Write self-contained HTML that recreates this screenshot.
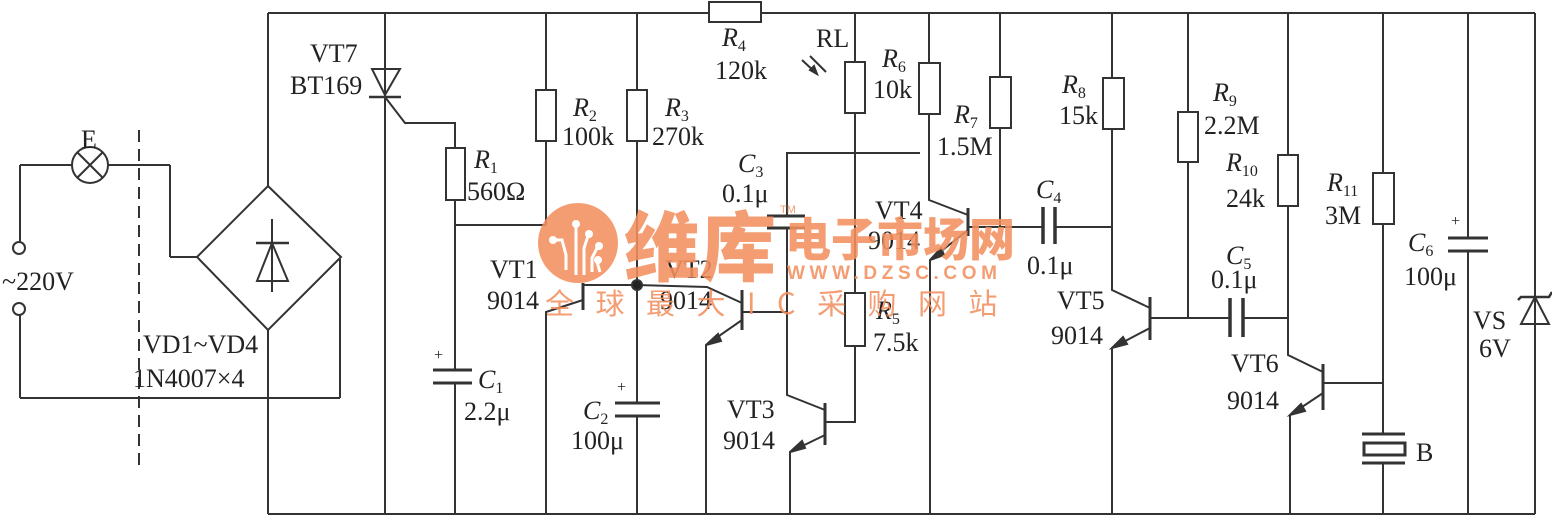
<!DOCTYPE html>
<html><head><meta charset="utf-8"><style>
html,body{margin:0;padding:0;background:#fff;}
svg{display:block;}
text{font-family:"Liberation Serif",serif;fill:#222;font-size:26px;}
.i{font-style:italic;}
.s{font-size:16px;}
</style></head><body>
<svg width="1552" height="516" viewBox="0 0 1552 516" xmlns="http://www.w3.org/2000/svg">
<g stroke="#333" stroke-width="2" fill="none">
<line x1="268" y1="13" x2="1535" y2="13"/>
<line x1="268" y1="514" x2="1535" y2="514"/>
<polygon points="268,186 341,257 268,330 197,257"/>
<line x1="268" y1="13" x2="268" y2="186"/>
<line x1="268" y1="330" x2="268" y2="514"/>
<line x1="272" y1="219" x2="272" y2="292"/>
<line x1="256" y1="243" x2="289" y2="243" stroke-width="2.5"/>
<polygon points="272,243 257,281 288,281"/>
<line x1="20" y1="165" x2="20" y2="242"/>
<circle cx="19" cy="248" r="6"/>
<circle cx="19" cy="309" r="6"/>
<line x1="20" y1="315" x2="20" y2="398"/>
<line x1="20" y1="398" x2="340" y2="398"/>
<line x1="340" y1="398" x2="340" y2="259"/>
<line x1="20" y1="165" x2="72" y2="165"/>
<circle cx="90" cy="165" r="18"/>
<line x1="77" y1="152" x2="103" y2="178"/>
<line x1="103" y1="152" x2="77" y2="178"/>
<line x1="108" y1="165" x2="170" y2="165"/>
<line x1="170" y1="165" x2="170" y2="257"/>
<line x1="170" y1="257" x2="197" y2="257"/>
<line x1="139" y1="130" x2="139" y2="465" stroke-dasharray="12,7"/>
<line x1="385" y1="13" x2="385" y2="514"/>
<polygon points="372,69 400,69 385,95"/>
<line x1="369" y1="97" x2="401" y2="97" stroke-width="2.5"/>
<polyline points="385,97 405,123 455,123 455,148"/>
<rect x="446" y="148" width="19" height="52"/>
<line x1="455" y1="200" x2="455" y2="370"/>
<line x1="433" y1="370" x2="472" y2="370" stroke-width="3"/>
<line x1="433" y1="383" x2="472" y2="383" stroke-width="3"/>
<line x1="455" y1="383" x2="455" y2="514"/>
<line x1="455" y1="225" x2="546" y2="225"/>
<line x1="546" y1="13" x2="546" y2="90"/>
<rect x="536" y="90" width="20" height="51"/>
<line x1="546" y1="141" x2="546" y2="225"/>
<line x1="583" y1="283" x2="583" y2="310" stroke-width="3"/>
<polyline points="583,285 637,285 707,287 742,303"/>
<polyline points="583,300 546,312 546,514"/>
<line x1="637" y1="13" x2="637" y2="90"/>
<rect x="627" y="90" width="20" height="51"/>
<line x1="637" y1="141" x2="637" y2="403"/>
<circle cx="637" cy="285" r="5" fill="#222"/>
<line x1="615" y1="403" x2="660" y2="403" stroke-width="3"/>
<line x1="615" y1="416" x2="660" y2="416" stroke-width="3"/>
<line x1="637" y1="416" x2="637" y2="514"/>
<line x1="742" y1="290" x2="742" y2="330" stroke-width="3"/>
<polyline points="742,320 706,345 706,514"/>
<polygon points="706,345 718,334 721,341" fill="#333"/>
<polyline points="742,312 787,312"/>
<rect x="709" y="2" width="52" height="20" fill="#fff"/>
<polyline points="920,153 787,153 787,216"/>
<line x1="767" y1="216" x2="805" y2="216" stroke-width="3"/>
<line x1="767" y1="228" x2="805" y2="228" stroke-width="3"/>
<polyline points="787,228 787,395 825,410"/>
<line x1="825" y1="403" x2="825" y2="445" stroke-width="3"/>
<polyline points="825,435 790,452 790,514"/>
<polygon points="790,452 802,441 805,448" fill="#333"/>
<line x1="855" y1="13" x2="855" y2="62"/>
<rect x="845" y="62" width="20" height="51"/>
<line x1="855" y1="113" x2="855" y2="293"/>
<rect x="845" y="293" width="20" height="53"/>
<polyline points="855,346 855,422 825,422"/>
<line x1="802" y1="60" x2="817" y2="74"/>
<line x1="810" y1="56" x2="826" y2="72"/>
<polygon points="817,74 810,70 814,66" fill="#333"/>
<line x1="929" y1="13" x2="929" y2="63"/>
<rect x="919" y="63" width="21" height="51"/>
<polyline points="929,114 929,153 929,200 968,215"/>
<line x1="968" y1="208" x2="968" y2="236" stroke-width="3"/>
<polyline points="968,230 930,260 930,514"/>
<polygon points="930,260 941,248 944,255" fill="#333"/>
<line x1="1000" y1="13" x2="1000" y2="77"/>
<rect x="990" y="77" width="21" height="51"/>
<line x1="1000" y1="128" x2="1000" y2="227"/>
<line x1="968" y1="227" x2="1043" y2="227"/>
<line x1="1043" y1="207" x2="1043" y2="244" stroke-width="3.5"/>
<line x1="1055" y1="207" x2="1055" y2="244" stroke-width="3.5"/>
<line x1="1055" y1="227" x2="1112" y2="227"/>
<line x1="1112" y1="13" x2="1112" y2="78"/>
<rect x="1103" y="78" width="21" height="51"/>
<polyline points="1112,129 1112,290 1150,308"/>
<line x1="1150" y1="297" x2="1150" y2="340" stroke-width="3"/>
<polyline points="1150,328 1112,348 1112,514"/>
<polygon points="1112,348 1123,337 1127,344" fill="#333"/>
<line x1="1150" y1="318" x2="1230" y2="318"/>
<line x1="1188" y1="13" x2="1188" y2="112"/>
<rect x="1178" y="112" width="20" height="50"/>
<line x1="1188" y1="162" x2="1188" y2="318"/>
<line x1="1230" y1="298" x2="1230" y2="337" stroke-width="3.5"/>
<line x1="1243" y1="298" x2="1243" y2="337" stroke-width="3.5"/>
<line x1="1243" y1="318" x2="1287" y2="318"/>
<line x1="1288" y1="13" x2="1288" y2="155"/>
<rect x="1278" y="155" width="20" height="51"/>
<polyline points="1288,206 1288,355 1323,372"/>
<line x1="1323" y1="364" x2="1323" y2="410" stroke-width="3"/>
<polyline points="1323,393 1290,415 1290,514"/>
<polygon points="1290,415 1301,404 1305,411" fill="#333"/>
<line x1="1323" y1="383" x2="1383" y2="383"/>
<line x1="1383" y1="13" x2="1383" y2="173"/>
<rect x="1373" y="173" width="21" height="51"/>
<line x1="1383" y1="224" x2="1383" y2="434"/>
<line x1="1362" y1="434" x2="1405" y2="434" stroke-width="3"/>
<rect x="1364" y="443" width="41" height="12" stroke-width="3"/>
<line x1="1362" y1="463" x2="1405" y2="463" stroke-width="3"/>
<line x1="1383" y1="463" x2="1383" y2="514"/>
<line x1="1468" y1="13" x2="1468" y2="238"/>
<line x1="1448" y1="238" x2="1488" y2="238" stroke-width="3"/>
<line x1="1448" y1="251" x2="1488" y2="251" stroke-width="3"/>
<line x1="1468" y1="251" x2="1468" y2="514"/>
<line x1="1535" y1="13" x2="1535" y2="514"/>
<polygon points="1535,297 1521,324 1549,324"/>
<polyline points="1518,300 1521,297 1549,297 1552,292" stroke-width="2.5"/>
</g>
<text x="310" y="62">VT7</text>
<text x="290" y="94">BT169</text>
<text x="81" y="148">E</text>
<text x="2" y="290">~220V</text>
<text x="143" y="353">VD1~VD4</text>
<text x="133" y="387">1N4007×4</text>
<text x="474" y="168" class="i">R<tspan class="s" dy="5" font-style="normal">1</tspan></text>
<text x="467" y="200">560Ω</text>
<text x="434" y="360" class="s">+</text>
<text x="478" y="388" class="i">C<tspan class="s" dy="5" font-style="normal">1</tspan></text>
<text x="464" y="420">2.2μ</text>
<text x="490" y="278">VT1</text>
<text x="487" y="309">9014</text>
<text x="573" y="116" class="i">R<tspan class="s" dy="5" font-style="normal">2</tspan></text>
<text x="562" y="145">100k</text>
<text x="665" y="116" class="i">R<tspan class="s" dy="5" font-style="normal">3</tspan></text>
<text x="652" y="145">270k</text>
<text x="722" y="46" class="i">R<tspan class="s" dy="5" font-style="normal">4</tspan></text>
<text x="715" y="79">120k</text>
<text x="816" y="47">RL</text>
<text x="882" y="67" class="i">R<tspan class="s" dy="5" font-style="normal">6</tspan></text>
<text x="873" y="98">10k</text>
<text x="954" y="123" class="i">R<tspan class="s" dy="5" font-style="normal">7</tspan></text>
<text x="937" y="155">1.5M</text>
<text x="738" y="172" class="i">C<tspan class="s" dy="5" font-style="normal">3</tspan></text>
<text x="722" y="202">0.1μ</text>
<text x="875" y="219">VT4</text>
<text x="868" y="249">9014</text>
<text x="665" y="278">VT2</text>
<text x="660" y="309">9014</text>
<text x="876" y="319" class="i">R<tspan class="s" dy="5" font-style="normal">5</tspan></text>
<text x="873" y="351">7.5k</text>
<text x="727" y="418">VT3</text>
<text x="723" y="449">9014</text>
<text x="583" y="419" class="i">C<tspan class="s" dy="5" font-style="normal">2</tspan></text>
<text x="571" y="449">100μ</text>
<text x="617" y="392" class="s">+</text>
<text x="1036" y="198" class="i">C<tspan class="s" dy="5" font-style="normal">4</tspan></text>
<text x="1027" y="274">0.1μ</text>
<text x="1062" y="93" class="i">R<tspan class="s" dy="5" font-style="normal">8</tspan></text>
<text x="1059" y="124">15k</text>
<text x="1213" y="101" class="i">R<tspan class="s" dy="5" font-style="normal">9</tspan></text>
<text x="1204" y="134">2.2M</text>
<text x="1226" y="171" class="i">R<tspan class="s" dy="5" font-style="normal">10</tspan></text>
<text x="1226" y="207">24k</text>
<text x="1327" y="191" class="i">R<tspan class="s" dy="5" font-style="normal">11</tspan></text>
<text x="1325" y="224">3M</text>
<text x="1408" y="251" class="i">C<tspan class="s" dy="5" font-style="normal">6</tspan></text>
<text x="1404" y="285">100μ</text>
<text x="1451" y="226" class="s">+</text>
<text x="1057" y="309">VT5</text>
<text x="1051" y="344">9014</text>
<text x="1226" y="264" class="i">C<tspan class="s" dy="5" font-style="normal">5</tspan></text>
<text x="1211" y="288">0.1μ</text>
<text x="1231" y="372">VT6</text>
<text x="1227" y="409">9014</text>
<text x="1473" y="329">VS</text>
<text x="1479" y="357">6V</text>
<text x="1416" y="461">B</text>
<g opacity="0.88">
<circle cx="578" cy="243" r="40" fill="#f3905f"/>
<g stroke="#fff" stroke-width="3" fill="none">
<polyline points="553,240 562,240 566,255 566,270"/>
<polyline points="576,226 576,275"/>
<polyline points="588,236 584,248 584,275"/>
<polyline points="598,246 592,258 592,272"/>
<polyline points="597,262 600,272"/>
</g>
<g fill="#fff"><circle cx="553" cy="240" r="4"/><circle cx="576" cy="224" r="4"/><circle cx="589" cy="234" r="4"/><circle cx="599" cy="246" r="4"/><circle cx="598" cy="260" r="4"/></g>
<text x="624" y="275" style="font-family:'Noto Sans CJK SC',sans-serif;font-weight:900;font-size:76px;fill:#f3905f">维库</text>
<text x="785" y="256" style="font-family:'Noto Sans CJK SC',sans-serif;font-weight:900;font-size:46px;fill:#f3905f">电子市场网</text>
<text x="787" y="279" style="font-family:'Liberation Sans',sans-serif;font-weight:bold;font-size:19px;letter-spacing:4.6px;fill:#f3905f">WWW.DZSC.COM</text>
<text x="545" y="314" style="font-family:'Noto Sans CJK SC',sans-serif;font-size:29px;letter-spacing:21.5px;fill:#f3905f">全球最大IC采购网站</text>
<text x="780" y="213" style="font-family:'Liberation Sans',sans-serif;font-size:11px;fill:#f3905f">TM</text>
</g>
</svg>
</body></html>
